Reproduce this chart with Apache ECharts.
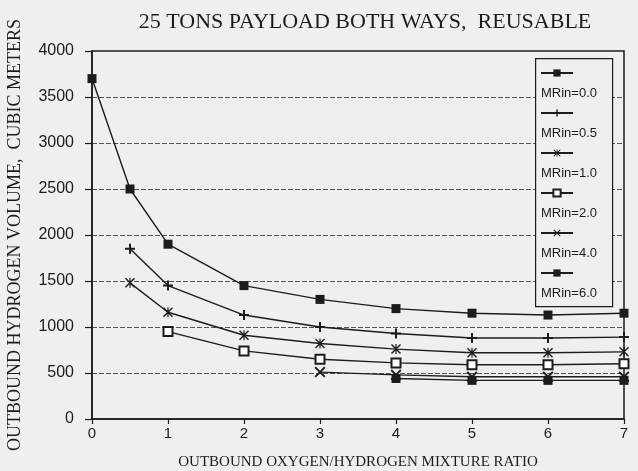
<!DOCTYPE html>
<html>
<head>
<meta charset="utf-8">
<script src="https://cdn.jsdelivr.net/npm/echarts@6/dist/echarts.min.js"></script>
<style>
html,body{margin:0;padding:0;background:#edeff1;}
#chart{width:638px;height:471px;}
</style>
</head>
<body>
<div id="chart"></div>
<script>
const xValues = [0, 0.5, 1, 2, 3, 4, 5, 6, 7];
const seriesNames = ['MRin=0.0', 'MRin=0.5', 'MRin=1.0', 'MRin=2.0', 'MRin=4.0', 'MRin=6.0'];
const mr00 = [3700, 2500, 1900, 1450, 1300, 1200, 1150, 1130, 1150];
const mr05 = [null, 1850, 1450, 1130, 1000, 930, 880, 880, 890];
const mr10 = [null, 1480, 1160, 910, 820, 760, 720, 720, 730];
const mr20 = [null, null, 950, 740, 650, 610, 590, 590, 600];
const mr40 = [null, null, null, null, 510, 480, 460, 460, 460];
const mr60 = [null, null, null, null, null, 440, 420, 420, 420];
const titleText = '25 TONS PAYLOAD BOTH WAYS,  REUSABLE';
const xName = 'OUTBOUND OXYGEN/HYDROGEN MIXTURE RATIO';
const yName = 'OUTBOUND HYDROGEN VOLUME,  CUBIC METERS';

const INK = '#1c1c1c';
const BG = '#edeff1';
const PLUS = 'path://M4,0H6V4H10V6H6V10H4V6H0V4H4Z';
const AST = 'path://M0,1L1,0L5,4L9,0L10,1L6,5L10,9L9,10L5,6L1,10L0,9L4,5Z M4.4,0H5.6V10H4.4Z';
const XM = 'path://M0,1.2L1.2,0L5,3.8L8.8,0L10,1.2L6.2,5L10,8.8L8.8,10L5,6.2L1.2,10L0,8.8L3.8,5Z';
const symbols = ['rect', PLUS, AST, 'emptyRect', XM, 'rect'];
const sizes = [9, 10, 10, 9, 11, 9];
const allData = [mr00, mr05, mr10, mr20, mr40, mr60];

function pairs(vals) {
  const out = [];
  vals.forEach((v, i) => { if (v !== null) out.push([xValues[i], v]); });
  return out;
}

const chart = echarts.init(document.getElementById('chart'));
chart.setOption({
  backgroundColor: BG,
  animation: false,
  title: {
    text: titleText,
    left: 360, top: 6,
    textAlign: 'center',
    textStyle: {fontFamily: 'Liberation Serif', fontSize: 22, fontWeight: 'normal', color: INK}
  },
  graphic: [{
    type: 'rect', left: 535, top: 58, z: 5,
    shape: {width: 77, height: 248},
    style: {fill: BG, stroke: INK, lineWidth: 1.2}
  }],
  grid: {left: 92, right: 14, top: 51, bottom: 52, containLabel: false, outerBoundsMode: 'none',
         show: true, borderColor: INK, borderWidth: 1.5, backgroundColor: 'transparent'},
  legend: {
    orient: 'vertical',
    left: 540, top: 43,
    padding: 0,
    z: 20,
    itemWidth: 32, itemHeight: 9,
    itemGap: -20,
    data: seriesNames,
    formatter: n => '\n\n' + n,
    textStyle: {fontFamily: 'Liberation Sans', fontSize: 13, color: INK, lineHeight: 20, padding: [0, 0, 0, -37]}
  },
  xAxis: {
    type: 'value', min: 0, max: 7, interval: 1,
    name: xName, nameLocation: 'middle', nameGap: 36,
    nameTextStyle: {fontFamily: 'Liberation Serif', fontSize: 15, color: INK},
    axisLine: {lineStyle: {color: INK, width: 1.5}},
    axisTick: {show: true, length: 5, lineStyle: {color: INK, width: 1.2}},
    axisLabel: {fontFamily: 'Liberation Sans', fontSize: 15, color: INK, margin: 7},
    splitLine: {show: false}
  },
  yAxis: {
    type: 'value', min: 0, max: 4000, interval: 500,
    name: yName, nameLocation: 'middle', nameGap: 68,
    nameTextStyle: {fontFamily: 'Liberation Serif', fontSize: 18, color: INK},
    axisLine: {show: true, lineStyle: {color: INK, width: 1.5}},
    axisTick: {show: true, length: 7, lineStyle: {color: INK, width: 1.2}},
    axisLabel: {fontFamily: 'Liberation Sans', fontSize: 16, color: INK, margin: 18, formatter: v => String(v)},
    splitLine: {show: true, lineStyle: {color: '#555', width: 1, type: [5, 2]}}
  },
  series: seriesNames.map((name, i) => ({
    name: name,
    type: 'line',
    data: pairs(allData[i]),
    symbol: symbols[i],
    symbolSize: sizes[i],
    showSymbol: true,
    lineStyle: {color: INK, width: 1.4},
    itemStyle: {color: INK, borderColor: INK, borderWidth: i === 3 ? 1.2 : 0},
    z: 10 - i
  }))
});
</script>
</body>
</html>
